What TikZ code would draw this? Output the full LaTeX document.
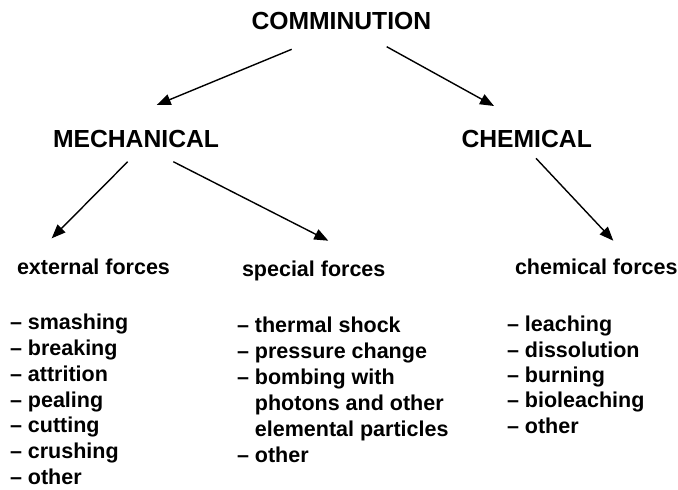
\documentclass[tikz,border=0pt]{standalone}
\usepackage{fontspec}
\setmainfont{Liberation Sans}
\usetikzlibrary{arrows.meta,calc}
\begin{document}
\begin{tikzpicture}[x=1pt,y=-1pt,
  txt/.style={inner sep=0pt,outer sep=0pt,anchor=base west,font=\bfseries\fontsize{21.5}{25.9}\selectfont},
  hdr/.style={inner sep=0pt,outer sep=0pt,anchor=base west,font=\bfseries\fontsize{24.7}{30}\selectfont},
  conn/.style={line width=1.4pt,-{Triangle[length=14pt,width=11pt]}}]
\useasboundingbox (0,0) rectangle (678,490);
\node[hdr] (comm) at (251.5,29.3) {COMMINUTION};
\node[hdr] (mech) at (53,147.3) {MECHANICAL};
\node[hdr] (chem) at (461.5,147.3) {CHEMICAL};
\node[txt] (ext) at (17,274) {external forces};
\node[txt] (spec) at (242,276.5) {special forces};
\node[txt] (chf) at (515,274) {chemical forces};
% left list
\foreach \t [count=\i] in {smashing,breaking,attrition,pealing,cutting,crushing,other}
  \node[txt] (l\i) at (10,{329.3+25.9*(\i-1)}) {– \t};
% middle list
\node[txt] (m1) at (237,332) {– thermal shock};
\node[txt] (m2) at (237,358) {– pressure change};
\node[txt] (m3) at (237,384) {– bombing with};
\node[txt] (m4) at (237,410) {\phantom{– }photons and other};
\node[txt] (m5) at (237,436) {\phantom{– }elemental particles};
\node[txt] (m6) at (237,462) {– other};
% right list
\foreach \t [count=\i] in {leaching,dissolution,burning,bioleaching,other}
  \node[txt] (r\i) at (507,{331.7+25.4*(\i-1)}) {– \t};
% connectors
\draw[conn] ($(comm.base west)+(40.2,20)$) -- ($(mech.base west)+(103.7,-42.3)$);
\draw[conn] ($(comm.base west)+(135.2,17.4)$) -- ($(chem.base west)+(32.5,-41.3)$);
\draw[conn] ($(mech.base west)+(74.7,14.4)$) -- ($(ext.base west)+(34.7,-35.7)$);
\draw[conn] ($(mech.base west)+(120.3,14.4)$) -- ($(spec.base west)+(86.3,-35.8)$);
\draw[conn] ($(chem.base west)+(74.5,11)$) -- ($(chf.base west)+(98.3,-33.3)$);
\end{tikzpicture}
\end{document}
